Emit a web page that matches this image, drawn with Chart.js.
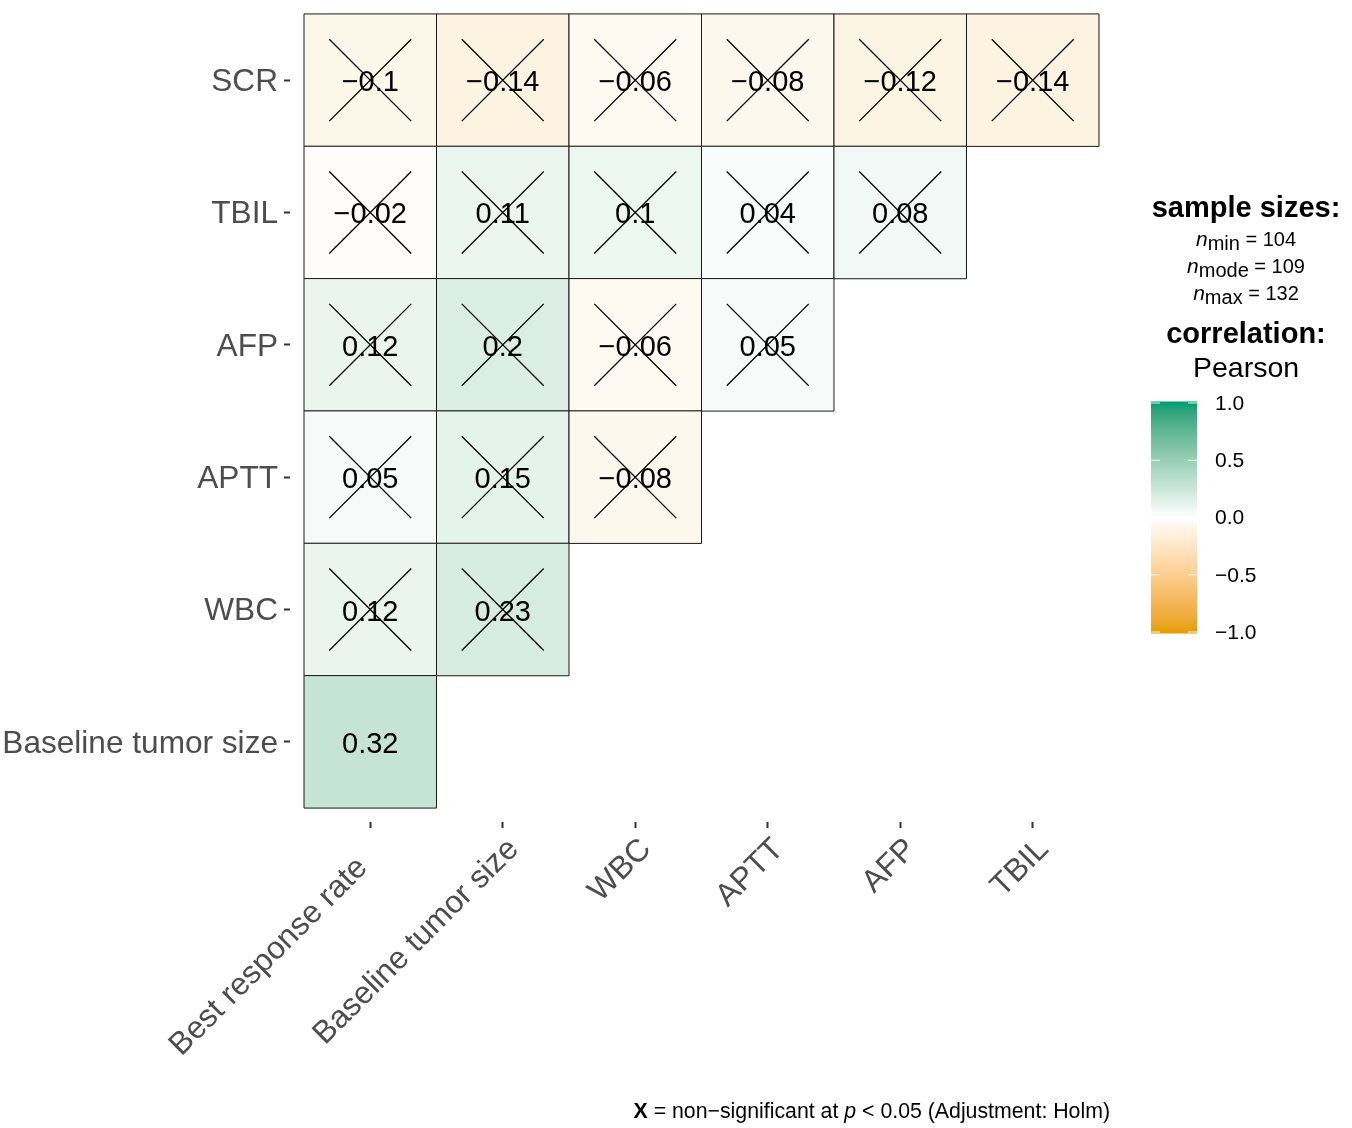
<!DOCTYPE html>
<html>
<head>
<meta charset="utf-8">
<script src="https://cdn.jsdelivr.net/npm/chart.js@4.4.0/dist/chart.umd.min.js"></script>
<style>
  html, body { margin: 0; padding: 0; background: #fff; }
  #wrap { width: 1352px; height: 1128px; position: relative; }
</style>
</head>
<body>
<div id="wrap"><canvas id="chart"></canvas></div>
<script>
const FONT = "'Liberation Sans', Arial, sans-serif";

const xLabels = ['Best response rate', 'Baseline tumor size', 'WBC', 'APTT', 'AFP', 'TBIL'];
const yLabels = ['SCR', 'TBIL', 'AFP', 'APTT', 'WBC', 'Baseline tumor size'];

// Pearson r, one array per row (top to bottom), columns left to right
const rSCR = [-0.1, -0.14, -0.06, -0.08, -0.12, -0.14];
const rTBIL = [-0.02, 0.11, 0.1, 0.04, 0.08];
const rAFP = [0.12, 0.2, -0.06, 0.05];
const rAPTT = [0.05, 0.15, -0.08];
const rWBC = [0.12, 0.23];
const rBaseline = [0.32];

// 1 = significant at p < 0.05 after Holm adjustment
const sigSCR = [0, 0, 0, 0, 0, 0];
const sigTBIL = [0, 0, 0, 0, 0];
const sigAFP = [0, 0, 0, 0];
const sigAPTT = [0, 0, 0];
const sigWBC = [0, 0];
const sigBaseline = [1];

const sampleStats = ['min', 'mode', 'max'];
const sampleN = [104, 109, 132];
const legendTicks = [1.0, 0.5, 0.0, -0.5, -1.0];

const lowColor = [230, 159, 0];   // #E69F00
const midColor = [255, 255, 255];
const highColor = [0, 158, 115];  // #009E73

// ---- colour ramp in Lab space ----
function toLin(c) { c /= 255; return c <= 0.04045 ? c / 12.92 : Math.pow((c + 0.055) / 1.055, 2.4); }
function fromLin(c) { const v = c <= 0.0031308 ? 12.92 * c : 1.055 * Math.pow(c, 1 / 2.4) - 0.055; return Math.max(0, Math.min(255, v * 255)); }
function rgbToLab(rgb) {
  const [r, g, b] = rgb.map(toLin);
  const X = (0.4124 * r + 0.3576 * g + 0.1805 * b) / 0.95047;
  const Y = (0.2126 * r + 0.7152 * g + 0.0722 * b);
  const Z = (0.0193 * r + 0.1192 * g + 0.9505 * b) / 1.08883;
  const f = t => t > 0.008856 ? Math.cbrt(t) : 7.787 * t + 16 / 116;
  const fx = f(X), fy = f(Y), fz = f(Z);
  return [116 * fy - 16, 500 * (fx - fy), 200 * (fy - fz)];
}
function labToRgb(lab) {
  const fy = (lab[0] + 16) / 116, fx = fy + lab[1] / 500, fz = fy - lab[2] / 200;
  const inv = t => t > 0.206893 ? t * t * t : (t - 16 / 116) / 7.787;
  const X = inv(fx) * 0.95047, Y = inv(fy), Z = inv(fz) * 1.08883;
  const r = 3.2406 * X - 1.5372 * Y - 0.4986 * Z;
  const g = -0.9689 * X + 1.8758 * Y + 0.0415 * Z;
  const b = 0.0557 * X - 0.2040 * Y + 1.0570 * Z;
  return [fromLin(r), fromLin(g), fromLin(b)];
}
const labLow = rgbToLab(lowColor), labMid = rgbToLab(midColor), labHigh = rgbToLab(highColor);
function rampRgb(v) {
  const end = v >= 0 ? labHigh : labLow;
  const t = Math.min(1, Math.abs(v));
  return labToRgb(labMid.map((m, i) => m + (end[i] - m) * t));
}
function rgbStr(c) { return `rgb(${Math.round(c[0])},${Math.round(c[1])},${Math.round(c[2])})`; }
// tiles: a bit paler than the bar; negatives read more cream than peach in the original
function tileFill(v) {
  const t = Math.min(1, Math.abs(v));
  const base = v >= 0 ? rampRgb(v) : midColor.map((m, i) => m + (lowColor[i] - m) * t);
  return rgbStr(base.map(c => c * 0.87 + 255 * 0.13));
}

// ---- cells ----
const rowVals = [rSCR, rTBIL, rAFP, rAPTT, rWBC, rBaseline];
const rowSig = [sigSCR, sigTBIL, sigAFP, sigAPTT, sigWBC, sigBaseline];
const cells = [];
rowVals.forEach((vals, r) => vals.forEach((v, c) => cells.push({ x: c, y: r, v: v, sig: rowSig[r][c] })));

function cellSide(chart) {
  const s = chart.scales.x;
  return Math.abs(s.getPixelForValue(1) - s.getPixelForValue(0));
}
function fmt(v) { return String(v).replace('-', '\u2212'); }

const PAD = 0.6057;

const cellLabels = {
  id: 'cellLabels',
  afterDatasetDraw(chart, args) {
    if (args.index !== 0) return;
    const { ctx, scales } = chart;
    ctx.save();
    ctx.font = `29px ${FONT}`;
    ctx.fillStyle = '#000';
    ctx.textAlign = 'center';
    ctx.textBaseline = 'middle';
    cells.forEach(c => {
      ctx.fillText(fmt(c.v), scales.x.getPixelForValue(c.x), scales.y.getPixelForValue(c.y) + 3);
    });
    ctx.restore();
  }
};

function drawRuns(ctx, runs, xRight, baseline) {
  // runs: [text, font, dy]
  let w = 0;
  runs.forEach(r => { ctx.font = r[1]; w += ctx.measureText(r[0]).width; });
  let x = xRight - w;
  runs.forEach(r => { ctx.font = r[1]; ctx.fillText(r[0], x, baseline + (r[2] || 0)); x += ctx.measureText(r[0]).width; });
}
function drawRunsCentered(ctx, runs, cx, baseline) {
  let w = 0;
  runs.forEach(r => { ctx.font = r[1]; w += ctx.measureText(r[0]).width; });
  drawRuns(ctx, runs, cx + w / 2, baseline);
}

const sideLegend = {
  id: 'sideLegend',
  afterDraw(chart) {
    const ctx = chart.ctx;
    ctx.save();
    ctx.fillStyle = '#000';
    ctx.textBaseline = 'alphabetic';
    const cx = 1246;

    ctx.textAlign = 'center';
    ctx.font = `bold 29px ${FONT}`;
    ctx.fillText('sample sizes:', cx, 217);
    ctx.textAlign = 'left';
    sampleStats.forEach((s, i) => {
      const base = 246 + i * 27;
      drawRunsCentered(ctx, [
        ['n', `italic 21px ${FONT}`, 0],
        [s, `20px ${FONT}`, 4],
        [' = ' + sampleN[i], `20px ${FONT}`, 0]
      ], cx, base);
    });

    ctx.textAlign = 'center';
    ctx.font = `bold 29px ${FONT}`;
    ctx.fillText('correlation:', cx, 343);
    ctx.font = `28.5px ${FONT}`;
    ctx.fillText('Pearson', cx, 377);

    // colour bar
    const barL = 1151, barW = 46, top = 403, step = 114.5;
    const yFor = v => top + (1 - v) * step;
    const grad = ctx.createLinearGradient(0, yFor(1), 0, yFor(-1));
    for (let i = 0; i <= 40; i++) {
      grad.addColorStop(i / 40, rgbStr(rampRgb(1 - i / 20)));
    }
    ctx.fillStyle = grad;
    ctx.fillRect(barL, yFor(1) - 1.5, barW, yFor(-1) - yFor(1) + 3);
    ctx.strokeStyle = 'rgba(255,255,255,0.9)';
    ctx.lineWidth = 1.2;
    ctx.textAlign = 'left';
    ctx.textBaseline = 'middle';
    ctx.font = `21px ${FONT}`;
    legendTicks.forEach(v => {
      const y = yFor(v);
      ctx.beginPath();
      ctx.moveTo(barL, y); ctx.lineTo(barL + 9, y);
      ctx.moveTo(barL + barW - 9, y); ctx.lineTo(barL + barW, y);
      ctx.stroke();
      ctx.fillStyle = '#000';
      ctx.fillText(fmt(v.toFixed(1)), 1215, y + 1);
    });

    // caption
    ctx.textBaseline = 'alphabetic';
    ctx.fillStyle = '#000';
    drawRuns(ctx, [
      ['X', `bold 21.3px ${FONT}`],
      [' = non\u2212significant at ', `21.3px ${FONT}`],
      ['p', `italic 21.3px ${FONT}`],
      [' < 0.05 (Adjustment: Holm)', `21.3px ${FONT}`]
    ], 1110, 1118);
    ctx.restore();
  }
};

// labels with descenders sit further back along the slant in the original
const xTickText = v => xLabels[v] + (/[gjpqy]/.test(xLabels[v]) ? '\u00A0\u00A0\u00A0' : '');

const ctx = document.getElementById('chart').getContext('2d');
const chart = new Chart(ctx, {
  type: 'scatter',
  data: {
    datasets: [
      {
        label: 'r',
        data: cells,
        pointStyle: 'rect',
        radius: c => cellSide(c.chart) / Math.SQRT2,
        backgroundColor: c => c.raw ? tileFill(c.raw.v) : '#fff',
        borderColor: '#1a1a1a',
        borderWidth: 1,
        order: 2
      },
      {
        label: 'ns',
        data: cells.filter(c => !c.sig),
        pointStyle: 'crossRot',
        radius: c => cellSide(c.chart) * 0.4375,
        borderColor: '#000',
        borderWidth: 1.3,
        order: 1
      }
    ]
  },
  options: {
    responsive: true,
    maintainAspectRatio: false,
    animation: false,
    events: [],
    layout: { padding: { top: 0, left: 0, right: 239, bottom: 0 } },
    plugins: { legend: { display: false }, tooltip: { enabled: false } },
    scales: {
      x: {
        type: 'linear',
        position: 'bottom',
        min: -PAD,
        max: xLabels.length - 1 + PAD,
        afterBuildTicks: s => { s.ticks = xLabels.map((_, i) => ({ value: i })); },
        afterFit: s => { s.height = 306; s.paddingLeft = 0; s.paddingRight = 0; },
        ticks: {
          callback: xTickText,
          autoSkip: false,
          minRotation: 45,
          maxRotation: 45,
          padding: 3,
          labelOffset: 11,
          color: '#4D4D4D',
          font: { family: FONT, size: 31.6 }
        },
        grid: { drawOnChartArea: false, drawTicks: true, tickLength: 6, tickWidth: 2, tickColor: '#333333' },
        border: { display: false }
      },
      y: {
        type: 'linear',
        reverse: true,
        min: -PAD,
        max: yLabels.length - 1 + PAD,
        afterBuildTicks: s => { s.ticks = yLabels.map((_, i) => ({ value: i })); },
        afterFit: s => { s.width = 290; s.paddingTop = 0; s.paddingBottom = 0; },
        ticks: {
          callback: v => yLabels[v],
          autoSkip: false,
          padding: 6,
          labelOffset: 2,
          color: '#4D4D4D',
          font: { family: FONT, size: 31.6 }
        },
        grid: { drawOnChartArea: false, drawTicks: true, tickLength: 6, tickWidth: 2, tickColor: '#333333' },
        border: { display: false }
      }
    }
  },
  plugins: [cellLabels, sideLegend]
});
</script>
</body>
</html>
